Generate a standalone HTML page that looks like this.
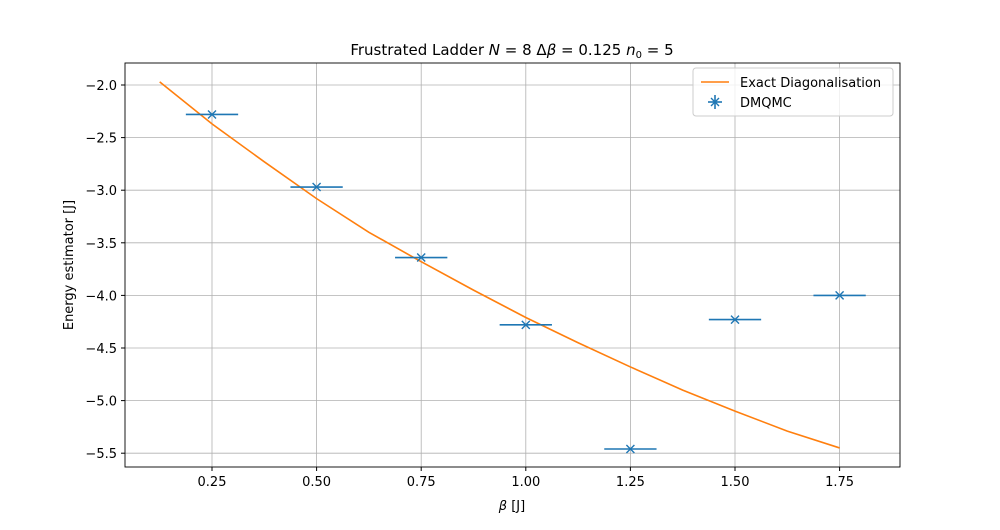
<!DOCTYPE html>
<html><head><meta charset="utf-8"><style>body{margin:0;background:#fff}svg{font-family:"DejaVu Sans","Liberation Sans",sans-serif}</style></head>
<body>
<svg width="1000" height="525" viewBox="0 0 1000 525" id="svg">
<rect x="0" y="0" width="1000" height="525" fill="#fff"/>
<g id="grid"></g><g id="marks"></g><g id="axes"></g>
</svg>
<script>
const xTicks=[0.25,0.5,0.75,1.0,1.25,1.5,1.75];
const xTickLabels=["0.25","0.50","0.75","1.00","1.25","1.50","1.75"];
const yTicks=[-2.0,-2.5,-3.0,-3.5,-4.0,-4.5,-5.0,-5.5];
const yTickLabels=["−2.0","−2.5","−3.0","−3.5","−4.0","−4.5","−5.0","−5.5"];
const dmBeta=[0.25,0.5,0.75,1.0,1.25,1.5,1.75];
const dmEnergy=[-2.28,-2.97,-3.64,-4.28,-5.46,-4.23,-4.0];
const dmXerr=[0.0625,0.0625,0.0625,0.0625,0.0625,0.0625,0.0625];
const edBeta=[0.125,0.25,0.375,0.5,0.625,0.75,0.875,1.0,1.125,1.25,1.375,1.5,1.625,1.75];
const edEnergy=[-1.97,-2.37,-2.73,-3.08,-3.40,-3.68,-3.95,-4.21,-4.45,-4.68,-4.90,-5.10,-5.29,-5.45];
const L=125,R=900,T=63,B=467;
const X=v=>107.4+v*418.4, Y=v=>85-(v+2)*105.2;
const NS="http://www.w3.org/2000/svg";
function mk(t,a,p,txt){const e=document.createElementNS(NS,t);for(const k in a)e.setAttribute(k,a[k]);if(txt!==undefined)e.textContent=txt;document.getElementById(p).appendChild(e);return e;}
xTicks.forEach((v,i)=>{
 let g=mk('line',{x1:X(v),x2:X(v),y1:T,y2:B,stroke:'#b0b0b0','stroke-width':0.8},'grid');
 
 mk('line',{x1:X(v),x2:X(v),y1:B,y2:B+4,stroke:'#000'},'axes');
 let t=mk('text',{x:X(v),y:B+19,'font-size':13,'text-anchor':'middle'},'axes',xTickLabels[i]);
 
});
yTicks.forEach((v,i)=>{
 let g=mk('line',{x1:L,x2:R,y1:Y(v),y2:Y(v),stroke:'#b0b0b0','stroke-width':0.8},'grid');
 
 mk('line',{x1:L-4,x2:L,y1:Y(v),y2:Y(v),stroke:'#000'},'axes');
 let t=mk('text',{x:L-8,y:Y(v)+5,'font-size':13,'text-anchor':'end'},'axes',yTickLabels[i]);
 
});
let pl=mk('polyline',{points:edBeta.map((b,i)=>X(b)+','+Y(edEnergy[i])).join(' '),fill:'none',stroke:'#ff7f0e','stroke-width':1.6},'marks');

dmBeta.forEach((b,i)=>{
 const x=X(b),y=Y(dmEnergy[i]);
 let e=mk('line',{x1:X(b-dmXerr[i]),x2:X(b+dmXerr[i]),y1:y,y2:y,stroke:'#1f77b4','stroke-width':1.6},'marks');
 
 let p=mk('path',{d:`M${x-4},${y-4}L${x+4},${y+4}M${x-4},${y+4}L${x+4},${y-4}`,stroke:'#1f77b4','stroke-width':1.4},'marks');
 
});
let fr=mk('rect',{x:L,y:T,width:R-L,height:B-T,fill:'none',stroke:'#000','stroke-width':0.9},'axes');

</script>
<svg style="position:absolute;left:0;top:0" width="1000" height="525">
<text x="512" y="55" font-size="15" text-anchor="middle" font-family="DejaVu Sans,sans-serif">Frustrated Ladder <tspan font-style="italic">N</tspan> = 8 Δ<tspan font-style="italic">β</tspan> = 0.125 <tspan font-style="italic">n</tspan><tspan font-size="10" dy="3">0</tspan><tspan dy="-3"> = 5</tspan></text>
<text x="512" y="510" font-size="13" text-anchor="middle" font-family="DejaVu Sans,sans-serif"><tspan font-style="italic">β</tspan> [J]</text>
<text x="73" y="265" font-size="13" text-anchor="middle" transform="rotate(-90 73 265)" font-family="DejaVu Sans,sans-serif">Energy estimator [J]</text>
<g font-family="DejaVu Sans,sans-serif">
<rect x="693" y="68" width="200" height="48" rx="3" fill="#fff" fill-opacity="0.8" stroke="#ccc"/>
<line x1="701" x2="729" y1="82" y2="82" stroke="#ff7f0e" stroke-width="1.6"/>
<text x="740" y="87" font-size="13">Exact Diagonalisation</text>
<line x1="708" x2="722" y1="102" y2="102" stroke="#1f77b4" stroke-width="1.6"/>
<line x1="715" x2="715" y1="95" y2="109" stroke="#1f77b4" stroke-width="1.6"/>
<path d="M711,98L719,106M711,106L719,98" stroke="#1f77b4" stroke-width="1.4"/>
<text x="740" y="107" font-size="13">DMQMC</text>
</g>
</svg>
</body></html>
